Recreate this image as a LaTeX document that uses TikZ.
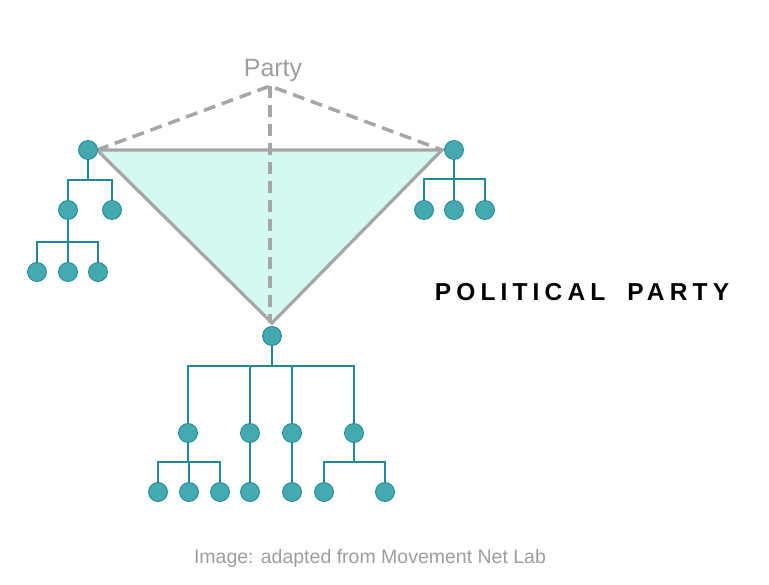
\documentclass[tikz,border=0pt]{standalone}
\usepackage{fontspec}
\setmainfont{Liberation Sans}
\newfontfamily\titlefont[LetterSpace=21]{Liberation Sans}
\definecolor{tealline}{HTML}{1C8C9C}
\definecolor{dotfill}{HTML}{45A9B1}
\definecolor{dotdraw}{HTML}{1B8A9A}
\definecolor{greyline}{HTML}{A6A6A6}
\definecolor{trifill}{HTML}{D4F8F2}
\definecolor{txtgrey}{HTML}{9E9E9E}
\begin{document}
\begin{tikzpicture}[x=1pt,y=-1pt,
  dot/.style={circle,minimum size=19pt,inner sep=0pt,fill=dotfill,draw=dotdraw,line width=0.8pt},
  tl/.style={draw=tealline,line width=1.9pt},
  tri/.style={draw=greyline,line width=3.2pt,fill=trifill,line join=miter},
  dsh/.style={draw=greyline,line width=3.5pt,dash pattern=on 12pt off 7pt},
  lbl/.style={inner sep=0pt}]
\useasboundingbox (0,0) rectangle (769,585);
% triangle and dashed structure
\coordinate (TL) at (97,150);
\coordinate (TR) at (442,150);
\coordinate (TB) at (272,323);
\coordinate (AP) at (270,86);
\coordinate (VB) at (270,323);
\path[tri] (TL) -- (TR) -- (TB) -- cycle;
\draw[dsh] (TL) -- (AP) -- (TR);
\draw[dsh] (AP) -- (VB);
\node[lbl,text=txtgrey,font=\fontsize{25}{28}\selectfont] (party) at (273,70) {Party};
% left tree
\node[dot] (L) at (88,150) {};
\node[dot] (La) at (68,210) {};
\node[dot] (Lb) at (112,210) {};
\node[dot] (La1) at (37,272) {};
\node[dot] (La2) at (68,272) {};
\node[dot] (La3) at (98,272) {};
\coordinate (Lbar) at (88,180);
\coordinate (Labar) at (68,242);
% right tree
\node[dot] (R) at (454,150) {};
\node[dot] (R1) at (424,210) {};
\node[dot] (R2) at (454,210) {};
\node[dot] (R3) at (485,210) {};
\coordinate (Rbar) at (454,179);
% bottom tree
\node[dot] (B) at (272,336) {};
\node[dot] (B1) at (188,433) {};
\node[dot] (B2) at (250,433) {};
\node[dot] (B3) at (292,433) {};
\node[dot] (B4) at (354,433) {};
\node[dot] (B11) at (158,492) {};
\node[dot] (B12) at (189,492) {};
\node[dot] (B13) at (220,492) {};
\node[dot] (B21) at (250,492) {};
\node[dot] (B31) at (292,492) {};
\node[dot] (B41) at (324,492) {};
\node[dot] (B42) at (385,492) {};
\coordinate (Bbar) at (272,366);
\coordinate (B1bar) at (188,462);
\coordinate (B4bar) at (354,462);
% connectors
\foreach \c in {La,Lb} \draw[tl] (L) |- (Lbar) -| (\c);
\foreach \c in {La1,La2,La3} \draw[tl] (La) |- (Labar) -| (\c);
\foreach \c in {R1,R2,R3} \draw[tl] (R) |- (Rbar) -| (\c);
\foreach \c in {B1,B2,B3,B4} \draw[tl] (B) |- (Bbar) -| (\c);
\foreach \c in {B11,B12,B13} \draw[tl] (B1) |- (B1bar) -| (\c);
\draw[tl] (B2) -- (B21);
\draw[tl] (B3) -- (B31);
\foreach \c in {B41,B42} \draw[tl] (B4) |- (B4bar) -| (\c);
% texts
\node[lbl,font=\titlefont\bfseries\fontsize{24.5}{28}\selectfont] (title) at (582,292) {POLITICAL\hspace{22pt}PARTY};
\node[lbl,text=txtgrey,font=\fontsize{19.5}{23}\selectfont] (credit) at (370,558) {Image: adapted from Movement Net Lab};
\end{tikzpicture}
\end{document}
